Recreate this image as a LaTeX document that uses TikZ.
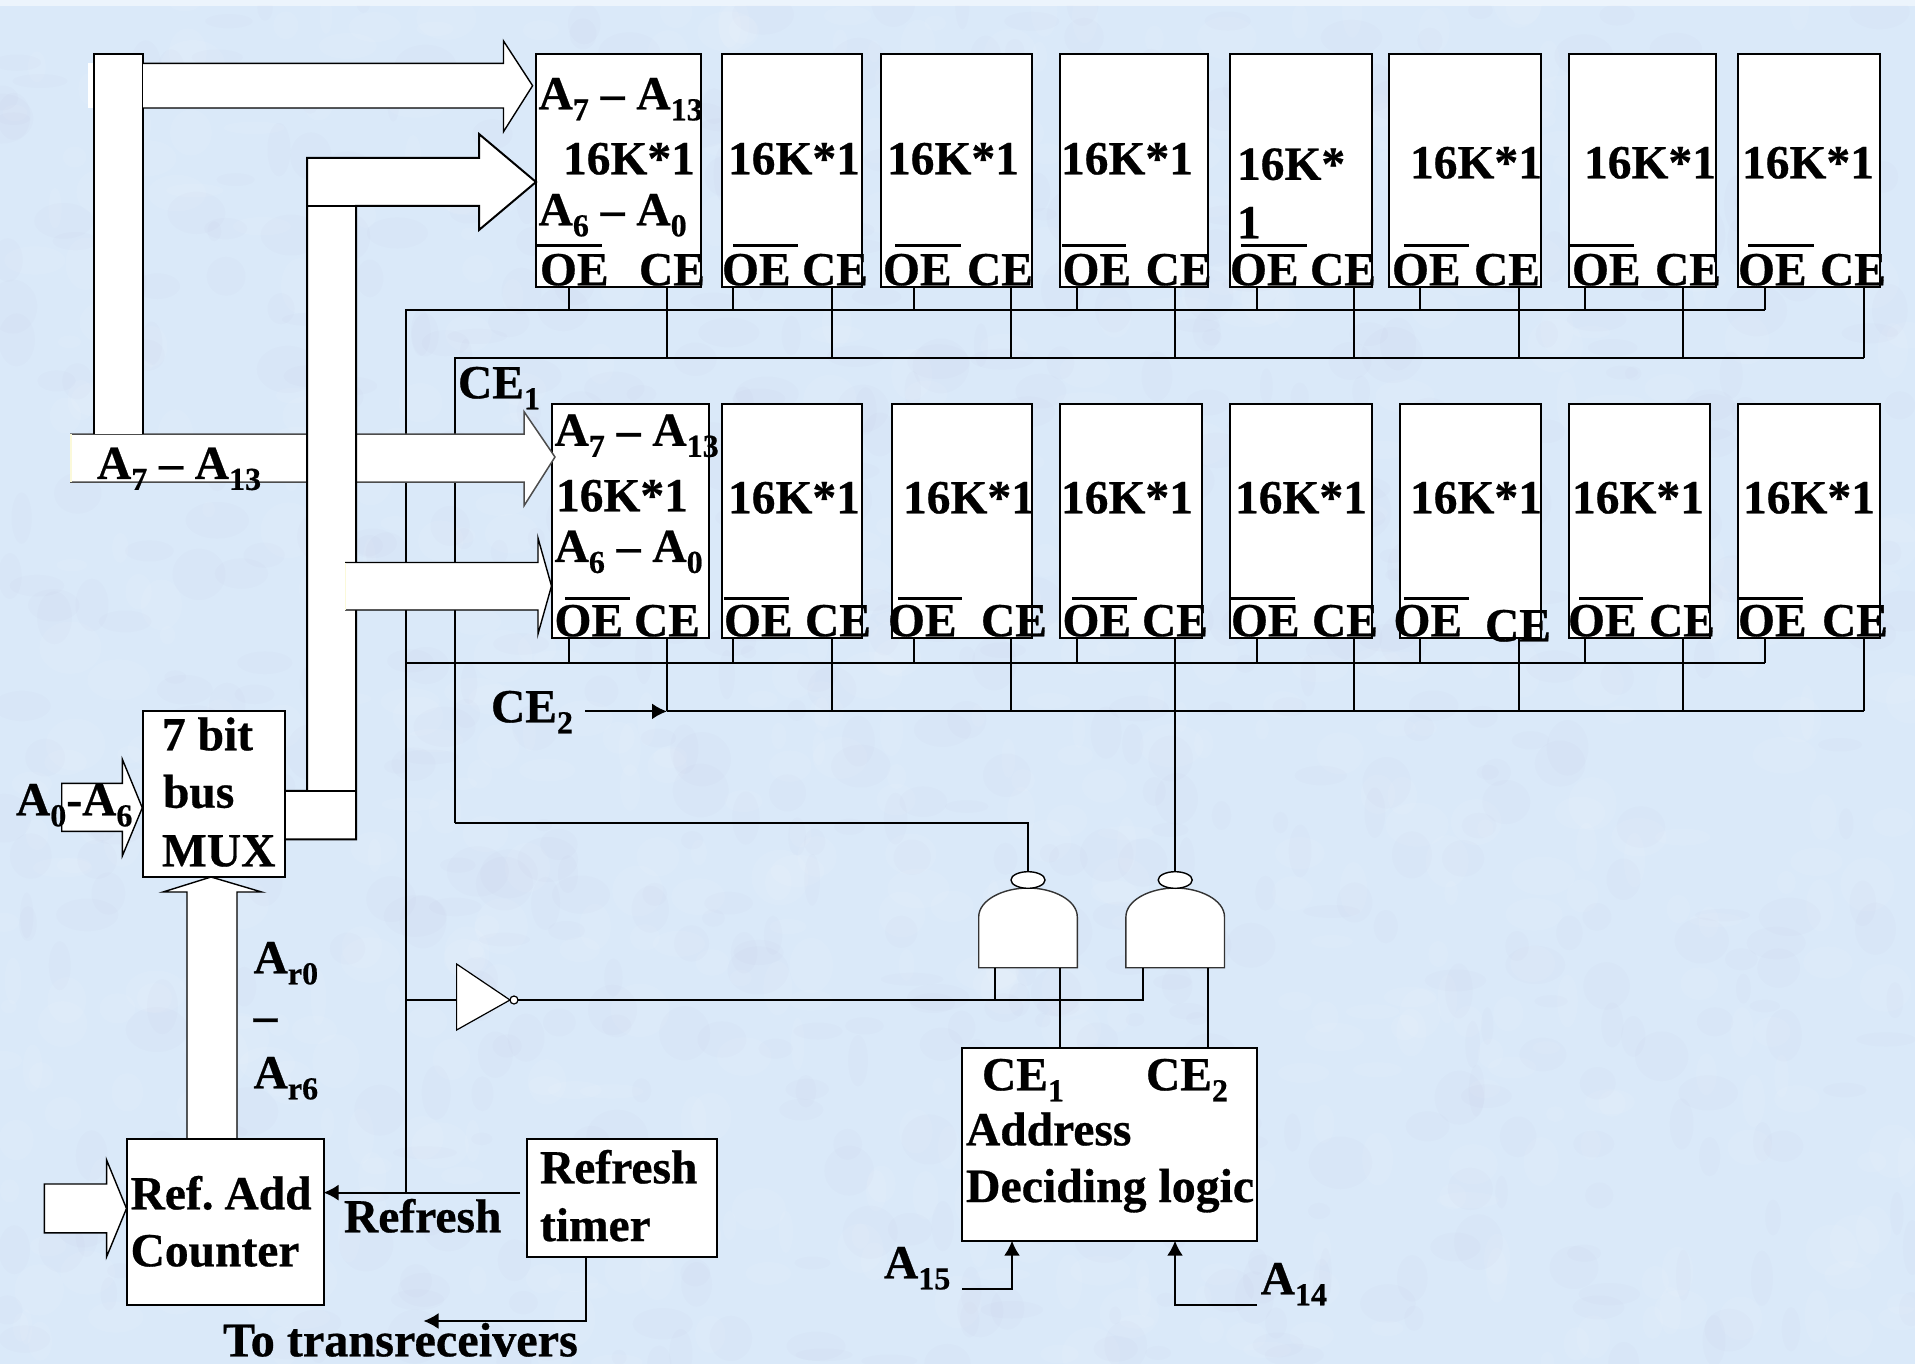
\documentclass[tikz,border=0pt]{standalone}
\usepackage{fontspec}
\usetikzlibrary{arrows.meta}
\setmainfont[BoldFeatures={FakeBold=0.6}]{Liberation Serif}
\newcommand{\lowsub}[1]{\raisebox{-11pt}{\fontsize{32}{32}\selectfont #1}}
\newcommand{\Asub}[1]{A\lowsub{#1}}
\begin{document}
\begin{tikzpicture}[x=1pt,y=-1pt,
  wire/.style={line width=2pt,draw=black},
  busarrow/.style={line width=1.4pt,draw=black,fill=white},
  chipbox/.style={draw=black,fill=white,line width=2pt,rectangle,inner sep=0,outer sep=0,anchor=north west},
  lbl/.style={font=\bfseries\fontsize{47.5}{48}\selectfont,inner sep=0,outer sep=0,anchor=base west,text=black,yshift=-0.3pt},
  headtip/.style={-{Latex[length=15pt,width=16pt]}},
  oebar/.style={line width=2.2pt,draw=black}]
\useasboundingbox (0,0) rectangle (1915,1364);
% background
\definecolor{paper}{RGB}{218,233,249}
\fill[paper] (0,0) rectangle (1915,1364);
\begin{scope}
\clip (0,6) rectangle (1915,1364);
\pgfmathsetseed{7}
\foreach \k in {1,...,1400}{
  \pgfmathsetmacro{\rx}{rnd*1915}
  \pgfmathsetmacro{\ry}{rnd*1364}
  \pgfmathsetmacro{\ra}{6+rnd*26}
  \pgfmathsetmacro{\rb}{6+rnd*22}
  \pgfmathtruncatemacro{\rc}{mod(\k,2)}
  \ifnum\rc=0
    \fill[white,opacity=.07] (\rx,\ry) ellipse [x radius=\ra,y radius=\rb];
  \else
    \fill[blue!40!violet!30!gray,opacity=.015] (\rx,\ry) ellipse [x radius=\ra,y radius=\rb];
  \fi
}
\end{scope}
\fill[white,opacity=.5] (0,0) rectangle (1915,6);

% coordinates for buses
\coordinate (oeA) at (405.6,310);
\coordinate (ceA) at (454.6,358);
\coordinate (oeAend) at (1765,310);
\coordinate (ceAend) at (1864,358);
\coordinate (oeB) at (405.6,663.4);
\coordinate (oeBend) at (1765,663.4);
\coordinate (ceB) at (667,711.4);
\coordinate (ceBend) at (1864,711.4);
\coordinate (refreshTap) at (405.6,1192.6);
\coordinate (ceLow) at (454.6,823);
\coordinate (invIn) at (405.6,1000);

% chips
\foreach \i/\xa/\xb in {1/536/700.5,2/722/862,3/880.5/1032,4/1060/1208,5/1230/1371.5,6/1388.6/1541,7/1569/1716,8/1738/1880}{
  \node[chipbox,minimum width={(\xb-\xa)*1pt},minimum height=233.4pt] (t\i) at (\xa,53.6) {};
}
\foreach \i/\xa/\xb in {1/552/709,2/722/862,3/891.5/1032,4/1060/1202,5/1230/1371.5,6/1399.6/1541,7/1569/1710,8/1738/1880}{
  \node[chipbox,minimum width={(\xb-\xa)*1pt},minimum height=234.4pt] (b\i) at (\xa,404) {};
}
% buses
\draw[wire] (refreshTap) -- (oeA) -- (oeAend);
\draw[wire] (ceLow) -- (ceA) -- (ceAend);
\draw[wire] (oeB) -- (oeBend);
\draw[wire] (ceB) -- (ceBend);
% stubs
\foreach \i/\ox/\cx in {1/569/667,2/733/832,3/913.5/1011,4/1077/1175,5/1257/1354,6/1420/1519,7/1585/1683,8/1765/1864}{
  \coordinate (ox\i) at (\ox,0);
  \coordinate (cx\i) at (\cx,0);
  \draw[wire] (ox\i |- t1.south) -- (ox\i |- oeA);
  \draw[wire] (cx\i |- t1.south) -- (cx\i |- ceA);
  \draw[wire] (ox\i |- b1.south) -- (ox\i |- oeB);
  \draw[wire] (cx\i |- b1.south) -- (cx\i |- ceB);
}
% A7-A13 horizontal band with arrow head
\fill[white] (88,63.4) rectangle (94,108);
\path[fill=white] (70,434) -- (524,434) -- (524,411.6) -- (555,457) -- (524,505.8) -- (524,482) -- (70,482) -- cycle;
\draw[line width=1.5pt,draw=black!70] (70,434) -- (524,434) -- (524,411.6) -- (555,457) -- (524,505.8) -- (524,482) -- (70,482);
\draw[line width=2pt,draw=black!12!yellow!15!white] (71,434) -- (71,482);
% left vertical bus and top arrow
\path[fill=white] (94,53.6) rectangle (143,434);
\draw[wire] (94,434) -- (94,53.6) -- (143,53.6) -- (143,434);
\path[fill=white] (143,63.4) -- (503.5,63.4) -- (503.5,41) -- (532.6,85.7) -- (503.5,131.7) -- (503.5,108) -- (143,108) -- cycle;
\draw[line width=1.4pt] (143,63.4) -- (503.5,63.4) -- (503.5,41) -- (532.6,85.7) -- (503.5,131.7) -- (503.5,108) -- (143,108);
% middle bus from MUX
\path[fill=white] (284.7,790.8) -- (307,790.8) -- (307,158) -- (479,158) -- (479,134) -- (536,182) -- (479,230) -- (479,205.8) -- (356,205.8) -- (356,839.3) -- (284.7,839.3) -- cycle;
\draw[wire] (284.7,790.8) -- (307,790.8) -- (307,158) -- (479,158) -- (479,134) -- (536,182) -- (479,230) -- (479,205.8) -- (356,205.8) -- (356,839.3) -- (284.7,839.3);
\draw[wire] (307,205.8) -- (356,205.8);
\draw[wire] (307,790.8) -- (356,790.8);
% third arrow
\path[fill=white] (345,562.5) -- (538,562.5) -- (538,538) -- (551.5,586) -- (538,634) -- (538,610) -- (345,610) -- cycle;
\draw[line width=1.4pt] (345,562.5) -- (538,562.5) -- (538,538) -- (551.5,586) -- (538,634) -- (538,610) -- (345,610);
\draw[line width=1.6pt,draw=black!12!yellow!15!white] (345.5,563) -- (345.5,610);

% MUX and input arrows
\node[chipbox,minimum width=141.7pt,minimum height=165.4pt] (mux) at (143,711.4) {};
\draw[busarrow] (61.7,783.4) -- (122.4,783.4) -- (122.4,759.4) -- (142.3,807.8) -- (122.4,855.8) -- (122.4,831.4) -- (61.7,831.4) -- cycle;
\path[fill=white] (187,1139) -- (187,892) -- (163,892) -- (211,877) -- (261.7,892) -- (237,892) -- (237,1139) -- cycle;
\draw[line width=1.4pt] (187,1139) -- (187,892) -- (163,892) -- (211,877) -- (261.7,892) -- (237,892) -- (237,1139);
% counter and timer
\node[chipbox,minimum width=196.5pt,minimum height=165.8pt] (counter) at (127,1139) {};
\node[chipbox,minimum width=190.3pt,minimum height=117.8pt] (timer) at (526.5,1139) {};
\draw[busarrow] (44.4,1184) -- (106.6,1184) -- (106.6,1160) -- (126.5,1208.5) -- (106.6,1256.8) -- (106.6,1232.8) -- (44.4,1232.8) -- cycle;
\coordinate (refreshStart) at (520,1192.6);
\coordinate (txEnd) at (423.5,1321);
\coordinate (txTop) at (585.7,0);
\draw[wire,headtip] (refreshStart) -- (refreshStart -| counter.east);
\draw[wire,headtip] (txTop |- timer.south) -- (txTop |- txEnd) -- (txEnd);
% inverter
\draw[wire] (invIn) -- (456.6,1000);
\draw[line width=1.2pt,fill=white] (456.6,964) -- (510,1000) -- (456.6,1030) -- cycle;
\draw[line width=1.2pt,fill=white] (514,1000) circle (4pt);
\coordinate (invOut) at (518,1000);
% gates
\foreach \g/\cx in {g1/1028,g2/1175.2}{
  \begin{scope}[shift={(\cx,0)}]
    \draw[line width=1.4pt,draw=black!80,fill=white] (-49.3,967.7) -- (-49.3,917) .. controls (-49.3,900) and (-25,888) .. (0,888) .. controls (25,888) and (49.3,900) .. (49.3,917) -- (49.3,967.7) -- cycle;
    \draw[line width=1.4pt,fill=white] (0,880) ellipse [x radius=17,y radius=8.3];
    \coordinate (\g top) at (0,871.7);
  \end{scope}
}
\coordinate (g1a) at (995,967.7);
\coordinate (g1b) at (1060.3,967.7);
\coordinate (g2a) at (1142.7,967.7);
\coordinate (g2b) at (1208,967.7);
\draw[wire] (ceLow) -| (g1top);
\draw[wire] (g2top) -- (g2top |- b1.south);
\draw[wire] (invOut) -- (g2a |- invOut) -- (g2a);
\draw[wire] (g1a) -- (g1a |- invOut);
% address block
\node[chipbox,minimum width=295.3pt,minimum height=192.4pt] (addr) at (962,1048.3) {};
\draw[wire] (g1b) -- (g1b |- addr.north);
\draw[wire] (g2b) -- (g2b |- addr.north);
\coordinate (a15s) at (962,1288.7);
\coordinate (a15x) at (1012,0);
\coordinate (a14s) at (1257,1304.7);
\coordinate (a14x) at (1175,0);
\draw[wire,headtip] (a15s) -- (a15x |- a15s) -- (a15x |- addr.south);
\draw[wire,headtip] (a14s) -- (a14x |- a14s) -- (a14x |- addr.south);
\coordinate (ce2s) at (585,711.4);
\draw[wire,headtip] (ce2s) -- (ceB);

% overlines
\foreach \a/\b in {537/602,733/798,895/961,1062/1126,1241/1307,1404/1469,1569/1634,1748/1814}{\draw[oebar] (\a,245.5) -- (\b,245.5);}
\foreach \a/\b in {565/630,724/789,898/962,1072/1137,1231/1295,1404/1469,1579/1643,1739/1803}{\draw[oebar] (\a,598.4) -- (\b,598.4);}

% chip texts
\node[lbl] (la1) at (538.6,109) {\Asub{7} – \Asub{13}};
\node[lbl] (la2) at (538.6,225) {\Asub{6} – \Asub{0}};
\node[lbl] (la3) at (554.6,445.5) {\Asub{7} – \Asub{13}};
\node[lbl] (la4) at (554.6,561.6) {\Asub{6} – \Asub{0}};
\foreach \n/\x/\y in {1/563/174,2/728/174,3/887/174,4/1061/174,6/1410/178,7/1584/178,8/1742/178}{
  \node[lbl] (kt\n) at (\x,\y) {16K*1};
}
\node[lbl] (kt5a) at (1237,179.5) {16K*};
\node[lbl] (kt5b) at (1237,238) {1};
\foreach \n/\x/\y in {1/556/511,2/728/513,3/903/513,4/1061/513,5/1235/513,6/1410/513,7/1572/513,8/1743/513}{
  \node[lbl] (kb\n) at (\x,\y) {16K*1};
}
\foreach \n/\x/\y/\t in {1/540/285/OE,2/722/285/OE,3/883/285/OE,4/1062.5/285/OE,5/1230/285/OE,6/1392/285/OE,7/1572/285/OE,8/1738/285/OE,
  9/639/285/CE,10/802/285/CE,11/967/285/CE,12/1145.6/285/CE,13/1310/285/CE,14/1474/285/CE,15/1655/285/CE,16/1820/285/CE,
  17/554.5/636/OE,18/724/636/OE,19/888/636/OE,20/1062.5/636/OE,21/1231/636/OE,22/1393.5/636/OE,23/1568/636/OE,24/1738/636/OE,
  25/634/636/CE,26/805/636/CE,27/981/636/CE,28/1142/636/CE,29/1312/636/CE,30/1485/641/CE,31/1649/636/CE,32/1822/636/CE}{
  \node[lbl] (pin\n) at (\x,\y) {\t};
}
% other labels
\node[lbl] (ce1lab) at (458,398) {CE\lowsub{1}};
\node[lbl] (busa) at (97,478.6) {\Asub{7} – \Asub{13}};
\node[lbl] (ce2lab) at (491,722) {CE\lowsub{2}};
\node[lbl] (m1) at (162,750) {7 bit};
\node[lbl] (m2) at (163,807.4) {bus};
\node[lbl] (m3) at (162,866) {MUX};
\node[lbl] (a06) at (16,815) {\Asub{0}-\Asub{6}};
\node[lbl] (ar0) at (253.6,973) {A\lowsub{r0}};
\node[lbl] (ardash) at (253.6,1031) {–};
\node[lbl] (ar6) at (253.6,1088) {A\lowsub{r6}};
\node[lbl] (c1) at (130.6,1209) {Ref.\kern-1pt\ Add};
\node[lbl] (c2) at (130.6,1266) {Counter};
\node[lbl] (reflab) at (344,1232) {Refresh};
\node[lbl] (tm1) at (540,1183) {Refresh};
\node[lbl] (tm2) at (540,1240.7) {timer};
\node[lbl,font=\bfseries\fontsize{48.2}{48}\selectfont] (txlab) at (223,1356) {To transreceivers};
\node[lbl] (ad1) at (982,1090) {CE\lowsub{1}};
\node[lbl] (ad2) at (1146,1090) {CE\lowsub{2}};
\node[lbl] (ad3) at (966,1145) {Address};
\node[lbl,font=\bfseries\fontsize{47.8}{48}\selectfont] (ad4) at (966,1201.7) {Deciding logic};
\node[lbl] (a15) at (884,1278) {\Asub{15}};
\node[lbl] (a14) at (1260.7,1294) {\Asub{14}};
\end{tikzpicture}
\end{document}
